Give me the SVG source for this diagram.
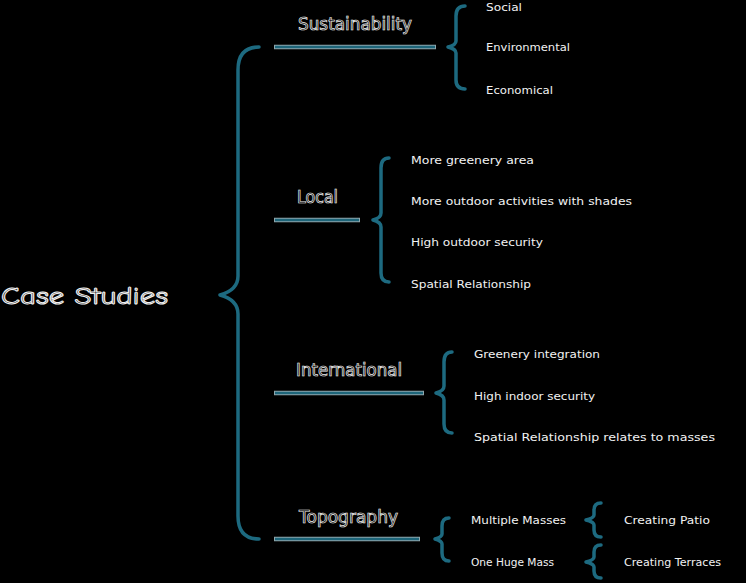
<svg xmlns="http://www.w3.org/2000/svg" width="746" height="583" viewBox="0 0 746 583">
<style>
.bg{fill:#000}
.edge{fill:none;stroke:#8fa6ac;stroke-width:4.5;stroke-linecap:butt}
.core{fill:none;stroke:#1d6579;stroke-width:2.5;stroke-linecap:butt}
.brace{fill:none;stroke:#1d6a80;stroke-width:3.5;stroke-linecap:round;stroke-linejoin:round}
.big{font-family:"Comic Neue","DejaVu Sans",sans-serif;fill:#1a1a1a;stroke:#f2f2f2;stroke-width:1;font-size:25px}
.mid{font-family:"DejaVu Sans",sans-serif;fill:#000;stroke:#f2f2f2;stroke-width:0.7;font-size:17px}
.small{font-family:"DejaVu Sans",sans-serif;fill:#f2f2f2;font-size:11px}
</style>
<rect class="bg" x="0" y="0" width="746" height="583"/>
<g id="connectors">
<g id="c-lines">
<path class="edge" d="M274,47 H436 M274,220 H360 M274,393 H424 M274,539 H420"/>
<path class="core" d="M275,47 H435 M275,220 H359 M275,393 H423 M275,539 H419"/>
</g>
<g id="c-braces">
<path class="brace" d="M259,47 Q238,47 238,70 L238,276 Q238,290 220,295 Q238,300 238,314 L238,516 Q238,539 259,539"/>
<path class="brace" d="M465,6 Q456,6 456,16 L456,41 Q456,45 448,47 Q456,49 456,53 L456,80 Q456,89 465,89"/>
<path class="brace" d="M389,158 Q381,158 381,168 L381,213 Q381,218 373,220 Q381,222 381,227 L381,273 Q381,282 389,282"/>
<path class="brace" d="M452,352 Q444,352 444,362 L444,386 Q444,391 436,393 Q444,395 444,400 L444,424 Q444,433 452,433"/>
<path class="brace" d="M449,518 Q442,518 442,526 L442,534 Q442,537 435,539 Q442,541 442,544 L442,553 Q442,561 449,561"/>
<path class="brace" d="M601,503 Q594,503 594,510 L594,515 Q594,518 586,520 Q594,522 594,525 L594,530 Q594,537 601,537"/>
<path class="brace" d="M601,545 Q594,545 594,552 L594,557 Q594,560 586,562 Q594,564 594,567 L594,571 Q594,578 601,578"/>
</g>
</g>
<g id="n-case"><text class="big" x="1" y="304" textLength="167" lengthAdjust="spacingAndGlyphs">Case Studies</text></g>
<g id="n-sustainability"><text class="mid" x="298" y="30" textLength="114" lengthAdjust="spacingAndGlyphs">Sustainability</text></g>
<g id="n-local"><text class="mid" x="297" y="203" textLength="41" lengthAdjust="spacingAndGlyphs">Local</text></g>
<g id="n-international"><text class="mid" x="296" y="376" textLength="106" lengthAdjust="spacingAndGlyphs">International</text></g>
<g id="n-topography"><text class="mid" x="299" y="523" textLength="99" lengthAdjust="spacingAndGlyphs">Topography</text></g>
<g id="n-social"><text class="small" x="486" y="11" textLength="36" lengthAdjust="spacingAndGlyphs">Social</text></g>
<g id="n-environmental"><text class="small" x="486" y="51" textLength="84" lengthAdjust="spacingAndGlyphs">Environmental</text></g>
<g id="n-economical"><text class="small" x="486" y="94" textLength="67" lengthAdjust="spacingAndGlyphs">Economical</text></g>
<g id="n-greenery-area"><text class="small" x="411" y="164" textLength="123" lengthAdjust="spacingAndGlyphs">More greenery area</text></g>
<g id="n-outdoor-activities"><text class="small" x="411" y="205" textLength="221" lengthAdjust="spacingAndGlyphs">More outdoor activities with shades</text></g>
<g id="n-outdoor-security"><text class="small" x="411" y="246" textLength="132" lengthAdjust="spacingAndGlyphs">High outdoor security</text></g>
<g id="n-spatial"><text class="small" x="411" y="288" textLength="120" lengthAdjust="spacingAndGlyphs">Spatial Relationship</text></g>
<g id="n-greenery-integration"><text class="small" x="474" y="358" textLength="126" lengthAdjust="spacingAndGlyphs">Greenery integration</text></g>
<g id="n-indoor-security"><text class="small" x="474" y="400" textLength="121" lengthAdjust="spacingAndGlyphs">High indoor security</text></g>
<g id="n-spatial-masses"><text class="small" x="474" y="441" textLength="241" lengthAdjust="spacingAndGlyphs">Spatial Relationship relates to masses</text></g>
<g id="n-multiple-masses"><text class="small" x="471" y="524" textLength="95" lengthAdjust="spacingAndGlyphs">Multiple Masses</text></g>
<g id="n-one-mass"><text class="small" x="471" y="566" textLength="83" lengthAdjust="spacingAndGlyphs">One Huge Mass</text></g>
<g id="n-patio"><text class="small" x="624" y="524" textLength="86" lengthAdjust="spacingAndGlyphs">Creating Patio</text></g>
<g id="n-terraces"><text class="small" x="624" y="566" textLength="97" lengthAdjust="spacingAndGlyphs">Creating Terraces</text></g>
</svg>
